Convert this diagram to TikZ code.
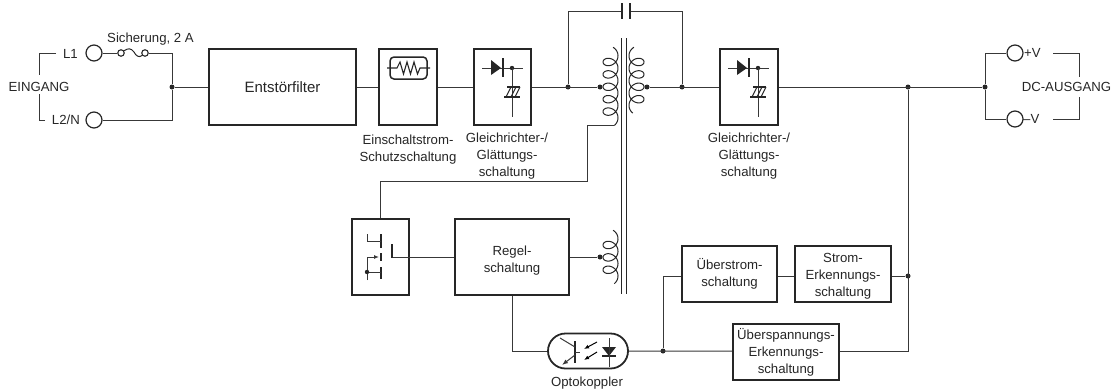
\documentclass[tikz,border=0pt]{standalone}
\usepackage{fontspec}
\setmainfont{Liberation Sans}
\usetikzlibrary{arrows.meta,shapes.misc}
\definecolor{wire}{HTML}{383838}
\definecolor{ink}{HTML}{262626}
\tikzset{
  rectifier/.pic={
    \draw[wire line] (8,-19) -- (49,-19);
    \fill[ink] (17,-27) -- (27,-19) -- (17,-12) -- cycle;
    \draw[line width=1.6pt,ink] (29,-29) -- (29,-10);
    \fill[ink] (38,-19) circle (2.2pt);
    \draw[wire line] (38,-19) -- (38,30);
    \draw[line width=1.1pt,ink] (33,0) -- (46,0);
    \draw[line width=1.1pt,ink] (30,10) -- (46,10);
    \draw[line width=1pt,ink] (32,10) -- (37,0) (37,10) -- (42,0) (41,10) -- (46,0);
  }
}
\begin{document}
\begin{tikzpicture}[x=1pt,y=-1pt]
      % Define styles for nodes
      \tikzstyle{wire line} = [line width=1pt,wire]
      \tikzstyle{box} = [draw=ink, rectangle, line width=2.3pt, fill=white,
      align=center, inner sep=0pt, text=ink, font=\fontsize{13.2}{17}\selectfont]
      \tikzstyle{caption} = [align=center, inner sep=0pt, text=ink,
      font=\fontsize{13.2}{17}\selectfont]
      \tikzstyle{terminal} = [draw=ink, circle, line width=1.2pt, minimum size=16pt,
      inner sep=0pt, fill=white]
      \tikzstyle{junction} = [circle, fill=ink, minimum size=5pt, inner sep=0pt]
      \tikzstyle{fuseend} = [draw=ink, circle, line width=1.1pt, minimum size=6.5pt,
      inner sep=0pt, fill=white]
      \tikzstyle{coil} = [line width=1pt,ink,smooth,samples=200,variable=\t]

      \useasboundingbox (0,0) rectangle (1115,391);

      % Blocks on the main line
      \node[box,minimum width=147pt,minimum height=76pt,font=\fontsize{15}{18}\selectfont] (filter) at (282.5,87) {Entstörfilter};
      \node[box,minimum width=58pt,minimum height=76pt] (inrush) at (408,87) {};
      \node[box,minimum width=57pt,minimum height=76pt] (rectA) at (502.5,87) {};
      \node[box,minimum width=58pt,minimum height=76pt] (rectB) at (749,87) {};

      % Blocks at the bottom
      \node[box,minimum width=57pt,minimum height=76pt,line width=2pt] (switch) at (380.5,257) {};
      \node[box,minimum width=114pt,minimum height=76pt] (control) at (512,257) {};
      \node[box,minimum width=95pt,minimum height=56pt] (overcurrent) at (729.5,274) {Überstrom-\\schaltung};
      \node[box,minimum width=96pt,minimum height=56pt] (currentsense) at (843,274) {};
      \node[box,minimum width=106pt,minimum height=56pt] (voltagesense) at (786,352) {Überspannungs-\\Erkennungs-\\schaltung};
      \node[draw=ink,rounded rectangle,line width=1.8pt,minimum width=80pt,minimum height=35pt,inner sep=0pt] (opto) at (588,351) {};

      % Terminals
      \node[terminal] (inA) at (94,53) {};
      \node[terminal] (inB) at (94,120) {};
      \node[terminal] (outA) at (1015,53) {};
      \node[terminal] (outB) at (1015,119) {};
      \node[fuseend] (fuseA) at (121,53) {};
      \node[fuseend] (fuseB) at (145,53) {};

      % Junctions
      \node[junction] (inJ) at (172,87) {};
      \node[junction] (capA) at (568,87) {};
      \node[junction] (priJ) at (600,87) {};
      \node[junction] (secJ) at (647,87) {};
      \node[junction] (capB) at (682,87) {};
      \node[junction] (railJ) at (908,87) {};
      \node[junction] (outJ) at (985,87) {};
      \node[junction] (senseJ) at (908,276) {};
      \node[junction] (optoJ) at (663,351) {};
      \node[junction] (auxJ) at (600,257) {};
      \coordinate (capL) at (622,11);
      \coordinate (capR) at (630,11);
      \coordinate (priEnd) at (614,125.5);
      \coordinate (priDrop) at (587,181);
      \coordinate (gate) at (392,257);

      % Connections
      \draw[wire line] (inA) -- (fuseA);
      \draw[wire line] (fuseB) -| (inJ);
      \draw[wire line] (inB) -| (inJ);
      \draw[wire line] (inJ) -- (filter);
      \draw[wire line] (filter) -- (inrush);
      \draw[wire line] (inrush) -- (rectA);
      \draw[wire line] (rectA) -- (priJ);
      \draw[wire line] (capA) |- (capL);
      \draw[wire line] (capB) |- (capR);
      \draw[wire line] (secJ) -- (rectB);
      \draw[wire line] (rectB) -- (outJ);
      \draw[wire line] (outJ) |- (outA);
      \draw[wire line] (outJ) |- (outB);
      \draw[wire line] (railJ) |- (optoJ -| voltagesense.east);
      \draw[wire line] (senseJ) -- (senseJ -| currentsense.east);
      \draw[wire line] (senseJ -| currentsense.west) -- (senseJ -| overcurrent.east);
      \draw[wire line] (senseJ -| overcurrent.west) -| (optoJ);
      \draw[wire line] (opto) -- (optoJ -| voltagesense.west);
      \draw[wire line] (control.south) |- (opto);
      \draw[wire line] (gate) -- (control);
      \draw[wire line] (control) -- (auxJ);
      \draw[wire line] (priEnd) -| (priDrop) -| (switch.north);

      % Capacitor
      \draw[line width=1.6pt,ink] (622,3) -- (622,19);
      \draw[line width=1.6pt,ink] (630,3) -- (630,19);

      % Core and windings
      \draw[line width=0.9pt,ink] (621.5,38) -- (621.5,294);
      \draw[line width=0.9pt,ink] (626,38) -- (626,294);
      \draw[coil,domain=-70:1860] plot ({610.5+7.5*cos(\t)},{55.8+\t/360*12.4+6.5*sin(\t)});
      \draw[coil,domain=-70:1500] plot ({636.5-7.5*cos(\t)},{55.8+\t/360*12.4+6.5*sin(\t)});
      \draw[coil,domain=-70:1140] plot ({610.5+7.5*cos(\t)},{238.8+\t/360*12.4+6.5*sin(\t)});

      % Fuse
      \draw[line width=1pt,ink] (fuseA) .. controls (128,48) and (131,48) .. (134,52) .. controls (136,56) and (139,58) .. (fuseB);

      % Inrush limiter
      \draw[line width=1.5pt,ink,rounded corners=4pt] (390,57) rectangle (427,79);
      \draw[line width=1.1pt,ink] (387,68) -- (397,68) -- (400,62) -- (403.5,74) -- (407,62) -- (410.5,74) -- (414,62) -- (417.5,74) -- (420,68) -- (430,68);

      % Rectifiers
      \pic at (474,87) {rectifier};
      \pic at (720,87) {rectifier};

      % Switch
      \draw[line width=1.6pt,ink] (392,244) -- (392,258);
      \draw[line width=1.6pt,ink] (381,234) -- (381,248);
      \draw[line width=1.6pt,ink] (381,253) -- (381,261);
      \draw[line width=1.6pt,ink] (381,267) -- (381,279);
      \draw[wire line] (367,234) -- (367,241) -- (381,241);
      \draw[wire line,-{Latex[length=5pt,width=4pt]}] (367,280) -- (367,257) -- (379,257);
      \draw[wire line] (367,272) -- (381,272);
      \fill[ink] (367,272) circle (2.2pt);

      % Optocoupler
      \draw[line width=1.6pt,ink] (575,341) -- (575,363);
      \draw[wire line] (560,338) -- (575,347);
      \draw[wire line,-{Latex[length=6pt,width=4.5pt]}] (575,355) -- (562,365);
      \draw[wire line] (575,352) -- (580,352);
      \draw[line width=1pt,-{Latex[length=5pt,width=4pt]}] (597,342) -- (584,349);
      \draw[line width=1pt,-{Latex[length=5pt,width=4pt]}] (597,352) -- (584,360);
      \fill[ink] (602,347) -- (616,347) -- (609,356) -- cycle;
      \draw[line width=1.3pt,ink] (602,356) -- (616,356);
      \draw[wire line] (609,338) -- (609,367);

      % Input and output brackets
      \coordinate (einA) at (39,75);
      \coordinate (einB) at (39,94);
      \coordinate (einC) at (56,53);
      \coordinate (einD) at (45,120);
      \coordinate (dcA) at (1079,77);
      \coordinate (dcB) at (1079,97);
      \coordinate (dcC) at (1053,53);
      \coordinate (dcD) at (1053,119);
      \draw[wire line] (einC) -| (einA);
      \draw[wire line] (einD) -| (einB);
      \draw[wire line] (dcC) -| (dcA);
      \draw[wire line] (dcD) -| (dcB);

      % Labels
      \node[caption] (fuselabel) at (150.5,39.5) {Sicherung, 2 A};
      \node[caption] (eingang) at (39,87) {EINGANG};
      \node[caption,anchor=east] (labelA) at (78,54) {L1};
      \node[caption,anchor=east] (labelB) at (80,120) {L2/N};
      \node[caption] (dclabel) at (1066.5,87) {DC-AUSGANG};
      \node[caption,anchor=west] (plusV) at (1024,53) {+V};
      \node[caption,anchor=west] (minusV) at (1023,119) {–V};
      \node[caption] (inrushlabel) at (408,149.5) {Einschaltstrom-\\Schutzschaltung};
      \node[caption] (rectAlabel) at (507,156.5) {Gleichrichter-/\\Glättungs-\\schaltung};
      \node[caption] (rectBlabel) at (749,156.5) {Gleichrichter-/\\Glättungs-\\schaltung};
      \node[caption] (optolabel) at (587,383) {Optokoppler};
      \node[caption] (controllabel) at (512,260.5) {Regel-\\schaltung};
      \node[caption] (senselabel) at (843,276) {Strom-\\Erkennungs-\\schaltung};
\end{tikzpicture}
\end{document}
